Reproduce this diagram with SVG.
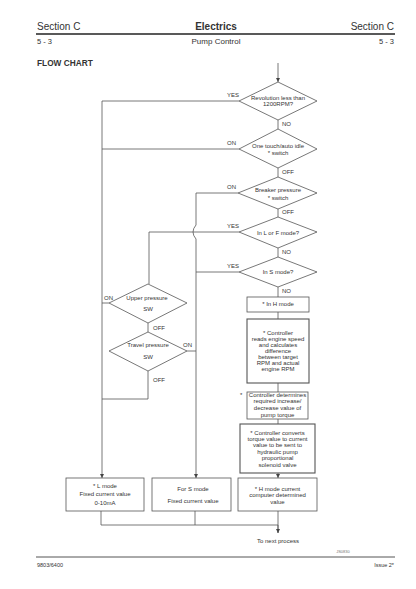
<svg xmlns="http://www.w3.org/2000/svg" width="416" height="589" viewBox="0 0 416 589">
<defs>
<marker id="arr" viewBox="0 0 6 6" refX="6" refY="3" markerWidth="4" markerHeight="4" orient="auto" markerUnits="userSpaceOnUse">
<path d="M0,0 L6,3 L0,6 z" fill="#444"/>
</marker>
</defs>
<style>
text{font-family:"Liberation Sans",Arial,sans-serif;fill:#333}
.hd{font-size:10px}
.hb{font-size:10px;font-weight:bold}
.sub{font-size:7.5px}
.t{font-size:6px;text-anchor:middle}
.l{font-size:6px}
.shape{fill:#fff;stroke:#555;stroke-width:0.8}
.thick{fill:#fff;stroke:#555;stroke-width:1.1}
.c{fill:none;stroke:#555;stroke-width:0.8}
</style>
<rect width="416" height="589" fill="#fff"/>
<g id="header">
<text class="hd" x="37" y="30">Section C</text>
<text class="hb" x="216" y="30" text-anchor="middle">Electrics</text>
<text class="hd" x="394" y="30" text-anchor="end">Section C</text>
<line x1="36" y1="34" x2="395" y2="34" stroke="#222" stroke-width="1.4"/>
<text class="sub" x="37" y="44">5 - 3</text>
<text class="sub" x="216" y="44" text-anchor="middle" style="font-size:8px">Pump Control</text>
<text class="sub" x="394" y="44" text-anchor="end">5 - 3</text>
<text x="37" y="66" style="font-size:8.3px;font-weight:bold">FLOW CHART</text>
</g>
<g id="connectors">
<path class="c" d="M278,63 V82" marker-end="url(#arr)"/>
<path class="c" d="M278,120 V129 M278,168 V177 M278,209 V217 M278,248 V257 M278,287 V297 M278,312 V319 M278,383 V392 M278,419 V424"/>
<path class="c" d="M278,473 V478" marker-end="url(#arr)"/>
<path class="c" d="M239,101 H102 V478" marker-end="url(#arr)"/>
<path class="c" d="M239,149 H102"/>
<path class="c" d="M238,193 H196 V225 Q190,232 196,239 V478" marker-end="url(#arr)"/>
<path class="c" d="M239,232 H149 V284"/>
<path class="c" d="M239,272 H196"/>
<path class="c" d="M109,303 H102"/>
<path class="c" d="M148,323 V332"/>
<path class="c" d="M187,351 H196"/>
<path class="c" d="M148,371 V399 H102"/>
<path class="c" d="M101,511 V525 H278 M195,511 V525 M278,511 V533"/>
<path class="c" d="M278,525 V533" marker-end="url(#arr)"/>
<text class="l" x="227" y="97">YES</text>
<text class="l" x="282" y="126">NO</text>
<text class="l" x="227" y="145">ON</text>
<text class="l" x="282" y="174">OFF</text>
<text class="l" x="227" y="189">ON</text>
<text class="l" x="282" y="214">OFF</text>
<text class="l" x="227" y="228">YES</text>
<text class="l" x="282" y="254">NO</text>
<text class="l" x="227" y="268">YES</text>
<text class="l" x="282" y="293">NO</text>
<text class="l" x="104" y="300">ON</text>
<text class="l" x="153" y="330">OFF</text>
<text class="l" x="183" y="347">ON</text>
<text class="l" x="153" y="382">OFF</text>
</g>
<g id="d1">
<polygon class="shape" points="278,82 317,101 278,120 239,101"/>
<text class="t" x="278" y="100">Revolution less than</text>
<text class="t" x="278" y="106">1200RPM?</text>
</g>
<g id="d2">
<polygon class="shape" points="278,129 317,149 278,168 239,149"/>
<text class="t" x="278" y="148">One touch/auto idle</text>
<text class="t" x="278" y="155">* switch</text>
</g>
<g id="d3">
<polygon class="shape" points="278,177 317,193 278,209 238,193"/>
<text class="t" x="278" y="192">Breaker pressure</text>
<text class="t" x="278" y="200">* switch</text>
</g>
<g id="d4">
<polygon class="shape" points="278,217 317,232 278,248 239,232"/>
<text class="t" x="278" y="235">In L or F mode?</text>
</g>
<g id="d5">
<polygon class="shape" points="278,257 317,272 278,287 239,272"/>
<text class="t" x="278" y="274">In S mode?</text>
</g>
<g id="upper">
<polygon class="shape" points="148,284 187,303 148,323 109,303"/>
<text class="t" x="147" y="300">Upper pressure</text>
<text class="t" x="148" y="311">SW</text>
</g>
<g id="travel">
<polygon class="shape" points="148,332 187,351 148,371 109,351"/>
<text class="t" x="148" y="347">Travel pressure</text>
<text class="t" x="148" y="359">SW</text>
</g>
<g id="hmode">
<rect class="shape" x="247" y="297" width="62" height="15"/>
<text class="t" x="278" y="306">* In H mode</text>
</g>
<g id="reads">
<rect class="thick" x="247" y="319" width="62" height="64"/>
<text class="t" x="278" y="335">* Controller</text>
<text class="t" x="278" y="341">reads engine speed</text>
<text class="t" x="278" y="347">and calculates</text>
<text class="t" x="278" y="353">difference</text>
<text class="t" x="278" y="359">between target</text>
<text class="t" x="278" y="365">RPM and actual</text>
<text class="t" x="278" y="371">engine RPM</text>
</g>
<g id="determines">
<rect class="shape" x="247" y="392" width="61" height="27"/>
<text class="l" x="240" y="397">*</text>
<text class="t" x="277.5" y="397">Controller determines</text>
<text class="t" x="277.5" y="403">required increase/</text>
<text class="t" x="277.5" y="410">decrease value of</text>
<text class="t" x="277.5" y="417">pump torque</text>
</g>
<g id="converts">
<rect class="thick" x="240" y="424" width="75" height="49"/>
<text class="t" x="277.5" y="435">* Controller converts</text>
<text class="t" x="277.5" y="441">torque value to current</text>
<text class="t" x="277.5" y="447">value to be sent to</text>
<text class="t" x="277.5" y="454">hydraulic pump</text>
<text class="t" x="277.5" y="460">proportional</text>
<text class="t" x="277.5" y="467">solenoid valve</text>
</g>
<g id="lbox">
<rect class="shape" x="66" y="478" width="78" height="33"/>
<text class="t" x="105" y="488">* L mode</text>
<text class="t" x="105" y="496">Fixed current value</text>
<text class="t" x="105" y="505">0-10mA</text>
</g>
<g id="sbox">
<rect class="shape" x="152" y="478" width="79" height="33"/>
<text class="t" x="193" y="491">For S mode</text>
<text class="t" x="193" y="503">Fixed current value</text>
</g>
<g id="hbox">
<rect class="shape" x="238" y="478" width="79" height="33"/>
<text class="t" x="277.5" y="491">* H mode current</text>
<text class="t" x="277.5" y="497">computer determined</text>
<text class="t" x="277.5" y="504">value</text>
</g>
<g id="footer">
<text class="t" x="278" y="543">To next process</text>
<text x="343" y="553" style="font-size:4px;text-anchor:middle;fill:#777">JS0830</text>
<line x1="36" y1="557" x2="395" y2="557" stroke="#555" stroke-width="1"/>
<text x="37" y="567" style="font-size:5.5px">9803/6400</text>
<text x="394" y="567" style="font-size:5.5px;text-anchor:end">Issue 2*</text>
</g>
</svg>
